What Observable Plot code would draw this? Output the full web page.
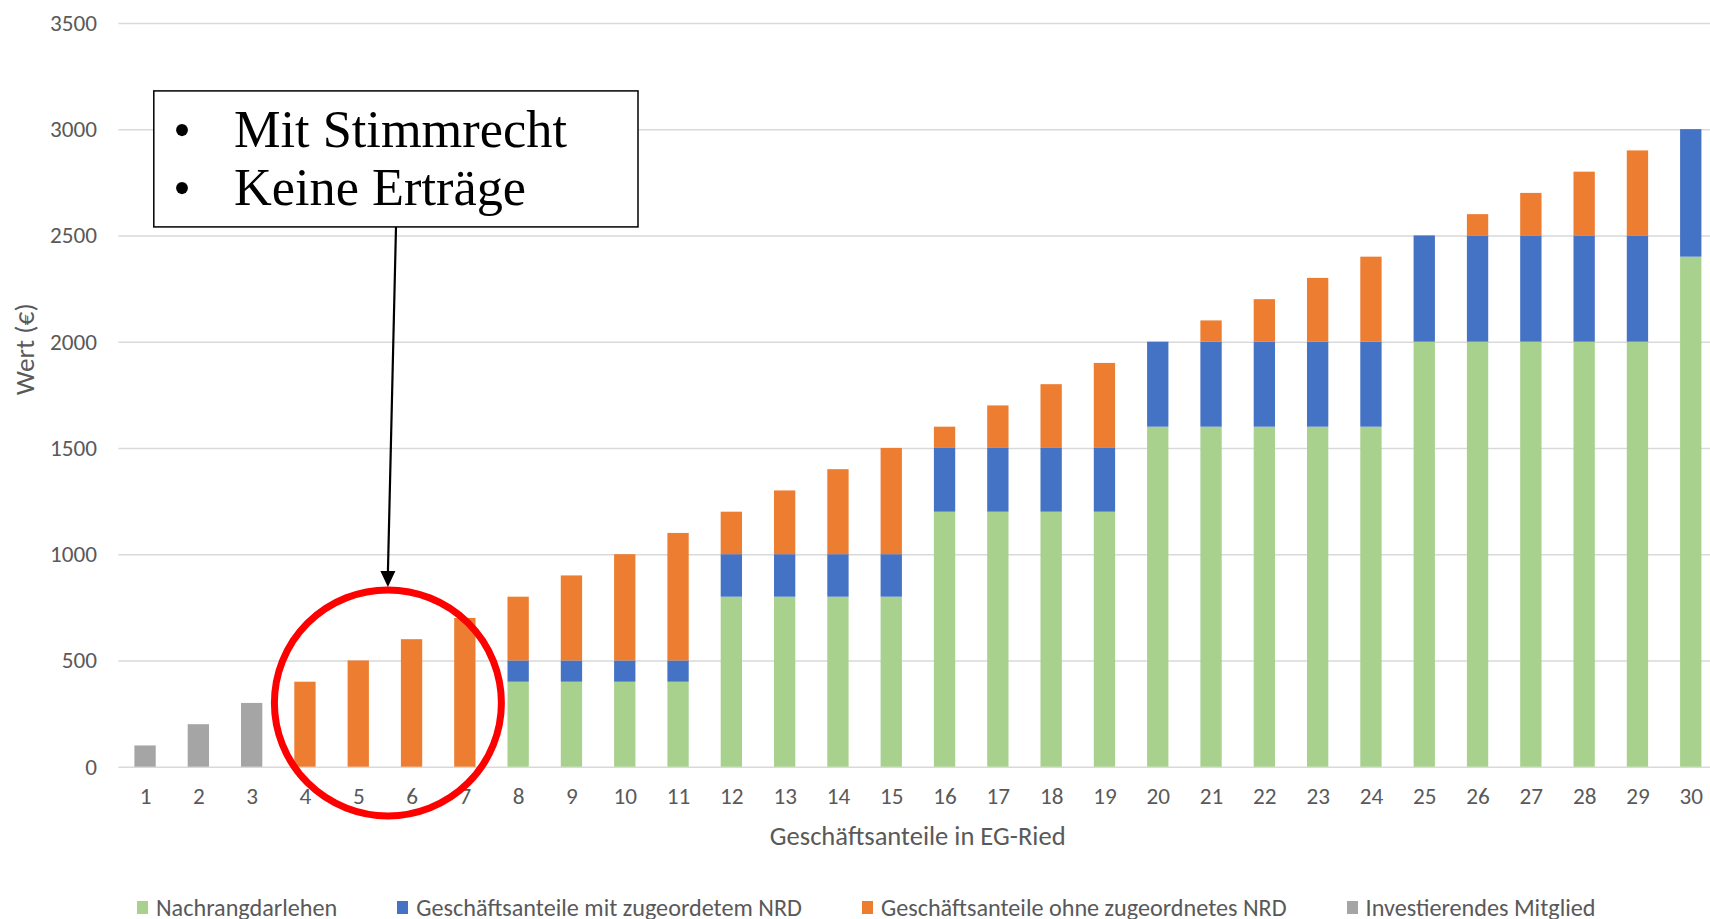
<!DOCTYPE html>
<html><head><meta charset="utf-8">
<script src="https://cdn.jsdelivr.net/npm/d3@7"></script>
<script src="https://cdn.jsdelivr.net/npm/@observablehq/plot@0.6"></script>
<style>
html,body{margin:0;padding:0;background:#fff;}
#chart{width:1710px;}
#chart svg{display:block;}
#legend{display:flex;align-items:center;padding-left:137px;margin-top:30px;height:24px;color:#595959;white-space:nowrap;}
.item{display:flex;align-items:center;margin-right:60px;}
.sw{width:11px;height:13px;margin-right:8px;flex:none;}
</style></head><body>
<div id="chart"></div>
<div id="legend"></div>
<script>
// ---- data ----
const anteile = d3.range(1, 31);
const seriesNames = ["Nachrangdarlehen", "Geschäftsanteile mit zugeordetem NRD", "Geschäftsanteile ohne zugeordnetes NRD", "Investierendes Mitglied"];
const seriesColors = ["#A9D18E", "#4472C4", "#ED7D31", "#A5A5A5"];
const nachrangdarlehen = [0,0,0,0,0,0,0,400,400,400,400,800,800,800,800,1200,1200,1200,1200,1600,1600,1600,1600,1600,2000,2000,2000,2000,2000,2400];
const mitNRD = [0,0,0,0,0,0,0,100,100,100,100,200,200,200,200,300,300,300,300,400,400,400,400,400,500,500,500,500,500,600];
const ohneNRD = [0,0,0,400,500,600,700,300,400,500,600,200,300,400,500,100,200,300,400,0,100,200,300,400,0,100,200,300,400,0];
const investierend = [100,200,300,0,0,0,0,0,0,0,0,0,0,0,0,0,0,0,0,0,0,0,0,0,0,0,0,0,0,0];
const yTicks = [0,500,1000,1500,2000,2500,3000,3500];
const xTitle = "Geschäftsanteile in EG-Ried";
const yTitle = "Wert (€)";
const noteLines = ["Mit Stimmrecht", "Keine Erträge"];

// ---- table ----
const seriesValues = [nachrangdarlehen, mitNRD, ohneNRD, investierend];
const rows = [];
seriesValues.forEach((vals, s) => vals.forEach((v, i) => { if (v > 0) rows.push({anteil: anteile[i], wert: v, serie: seriesNames[s]}); }));

// ---- fonts ----
const FONT = "Carlito, Calibri, 'Liberation Sans Narrow', 'Open Sans', sans-serif";
const SERIF = "'Book Antiqua', 'Palatino Linotype', Palatino, 'Liberation Serif', serif";
const ctx = document.createElement("canvas").getContext("2d");
function fit(text, target, family = FONT) { ctx.font = `100px ${family}`; return target / ctx.measureText(text).width * 100; }
const tickFs = fit("3500", 47);
const xTitleFs = fit(xTitle, 296);
const yTitleFs = fit(yTitle, 92);
const legendFs = fit("Geschäftsanteile ohne zugeordnetes NRD", 406);
const noteFs = fit("Mit Stimmrecht", 333, SERIF);

const plot = Plot.plot({
  width: 1710, height: 865,
  marginLeft: 118.4, marginRight: 0, marginTop: 22.9, marginBottom: 98.3,
  style: {fontFamily: FONT, fontSize: tickFs + "px", color: "#595959", background: "#fff"},
  x: {type: "band", domain: anteile, range: [118.4, 1717.4], paddingInner: 0.6, paddingOuter: 0.3, round: false, label: null},
  y: {domain: [0, 3500], label: null},
  color: {domain: seriesNames, range: seriesColors},
  marks: [
    Plot.gridY(yTicks, {stroke: "#D9D9D9", strokeOpacity: 1, strokeWidth: 1.5}),
    Plot.axisY(yTicks, {tickSize: 0, tickPadding: 22, tickFormat: "d", label: null, fill: "#595959", fontSize: tickFs}),
    Plot.axisX({tickSize: 0, tickPadding: 20, label: null, fill: "#595959", fontSize: tickFs}),
    Plot.barY(rows, {x: "anteil", y: "wert", fill: "serie"}),
    Plot.text([xTitle], {frameAnchor: "bottom", dy: 69, dx: 3, lineAnchor: "middle", fontSize: xTitleFs, fill: "#595959"}),
    Plot.text([yTitle], {frameAnchor: "left", dx: -94, rotate: -90, lineAnchor: "middle", fontSize: yTitleFs, fill: "#595959"})
  ]
});
document.getElementById("chart").appendChild(plot);

// ---- annotation (positioned with the plot's own scales) ----
const xs = plot.scale("x"), ys = plot.scale("y");
const bw = xs.bandwidth;
const cx = (xs.apply(5) + xs.apply(6)) / 2 + bw / 2 + 3;
const cy = ys.apply(300);
const r = 113.5, sw = 7;
const svg = d3.select(plot);
const g = svg.append("g").attr("text-anchor", "start");
g.append("ellipse").attr("cx", cx).attr("cy", cy).attr("rx", r).attr("ry", r - 0.5)
  .attr("fill", "none").attr("stroke", "#FF0000").attr("stroke-width", sw);
const box = {x: 153.8, y: ys.apply(3180), w: 484.2};
box.h = ys.apply(2540) - box.y;
const tipY = cy - r - sw / 2 + 1;
const startX = 396;
g.append("line").attr("x1", startX).attr("y1", box.y + box.h).attr("x2", cx).attr("y2", tipY - 14)
  .attr("stroke", "#000").attr("stroke-width", 2.2);
g.append("path").attr("d", `M${cx},${tipY} L${cx - 7.5},${tipY - 16} L${cx + 7.5},${tipY - 16} Z`).attr("fill", "#000");
g.append("rect").attr("x", box.x).attr("y", box.y).attr("width", box.w).attr("height", box.h)
  .attr("fill", "#fff").attr("stroke", "#000").attr("stroke-width", 1.5);
const baselines = [147, 205];
noteLines.forEach((t, i) => {
  const tx = g.append("text").attr("y", baselines[i]).attr("font-family", SERIF).attr("fill", "#000");
  tx.append("tspan").attr("x", 182).attr("text-anchor", "middle").attr("font-size", 50).text("•");
  tx.append("tspan").attr("x", 234).attr("text-anchor", "start").attr("font-size", noteFs).text(t);
});

// ---- legend ----
const legend = d3.select("#legend").style("font-family", FONT).style("font-size", legendFs + "px");
seriesNames.forEach((n, i) => {
  const it = legend.append("div").attr("class", "item");
  it.append("div").attr("class", "sw").style("background", seriesColors[i]);
  it.append("span").text(n);
});
</script>
</body></html>
